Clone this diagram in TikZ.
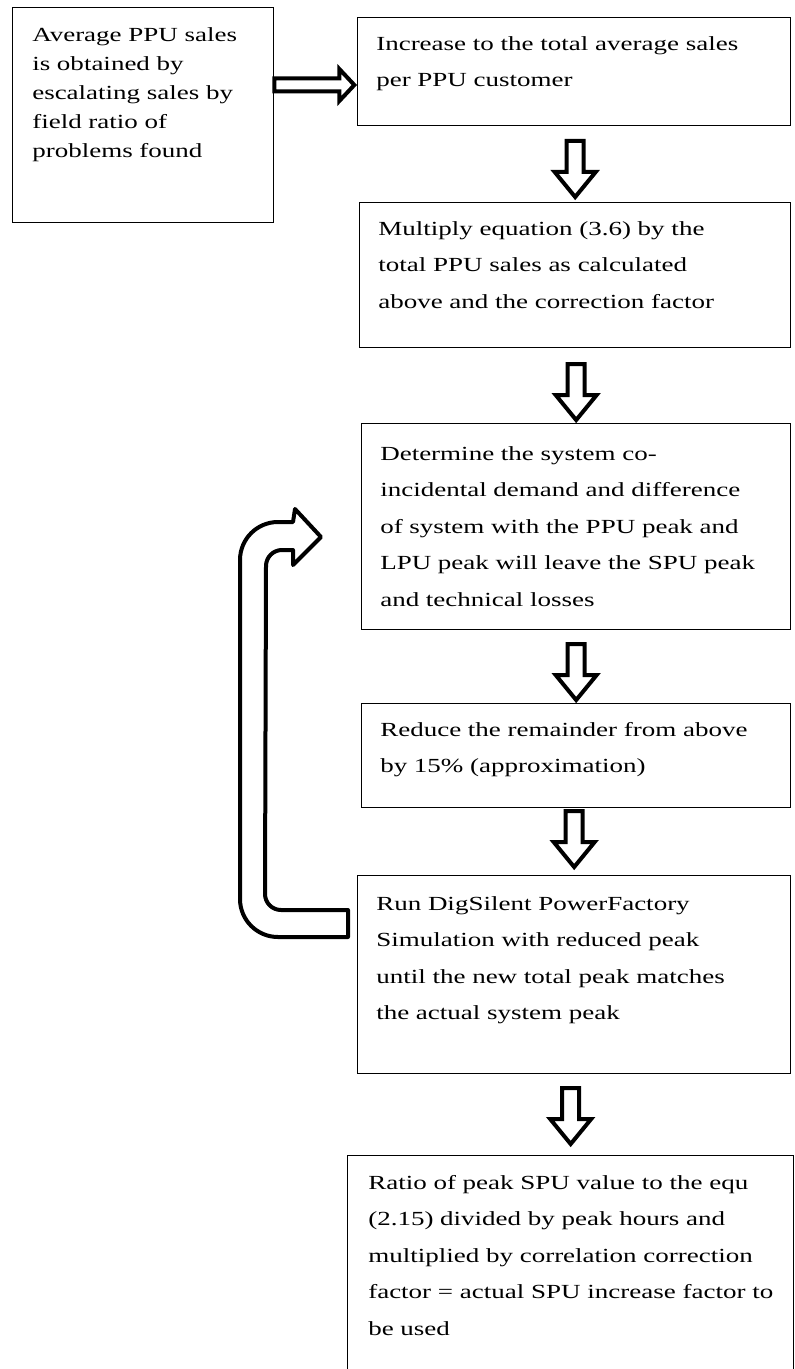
\documentclass[tikz,border=0pt]{standalone}
\usepackage{fontspec}
\setmainfont{Liberation Serif}[FakeStretch=1.35]
\usetikzlibrary{calc}

\tikzset{
  box/.style={draw,line width=1pt,anchor=north west,inner sep=0pt},
  txt/.style={anchor=north west,align=left,inner sep=0pt,
    font=\fontsize{15}{27.4}\selectfont},
  blk/.style={draw,line width=3pt,fill=white,line join=miter},
  pushdown/.pic={
    \draw[blk] (-8.5,-56)--(8.5,-56)--(8.5,-25)--(20.5,-25)--(0,0)
      --(-20.5,-25)--(-8.5,-25)--cycle;
  },
  pushright/.pic={
    \draw[blk] (0,-6.5)--(65,-6.5)--(65,-16)--(80,0)--(65,16)
      --(65,6.5)--(0,6.5)--cycle;
  }
}

\begin{document}
\begin{tikzpicture}[x=0.75pt,y=-0.75pt]

\useasboundingbox (0,0) rectangle (794,1369);

% boxes
\node[box,minimum width=195.75pt,minimum height=161.25pt] (boxA) at (12,7) {};
\node[box,minimum width=324.75pt,minimum height=81pt] (boxB) at (357,17) {};
\node[box,minimum width=323.25pt,minimum height=108.75pt] (boxC) at (359,202) {};
\node[box,minimum width=321.75pt,minimum height=154.5pt] (boxD) at (361,423) {};
\node[box,minimum width=321.75pt,minimum height=78pt] (boxE) at (361,703) {};
\node[box,minimum width=324.75pt,minimum height=148.5pt] (boxF) at (357,875) {};
\node[box,minimum width=334.5pt,minimum height=180pt] (boxG) at (347,1155) {};

% texts
\node[txt,font=\fontsize{15}{21.75}\selectfont] (tA) at (32,27)
  {Average PPU sales\\is obtained by\\escalating sales by\\field ratio of\\problems found};
\node[txt] (tB) at (376,36)
  {Increase to the total average sales\\per PPU customer};
\node[txt] (tC) at (378,221)
  {Multiply equation (3.6) by the\\total PPU sales as calculated\\above and the correction factor};
\node[txt] (tD) at (380,446)
  {Determine the system co-\\incidental demand and difference\\of system with the PPU peak and\\LPU peak will leave the SPU peak\\and technical losses};
\node[txt] (tE) at (380,722)
  {Reduce the remainder from above\\by 15\% (approximation)};
\node[txt] (tF) at (376,896)
  {Run DigSilent PowerFactory\\Simulation with reduced peak\\until the new total peak matches\\the actual system peak};
\node[txt] (tG) at (368,1175)
  {Ratio of peak SPU value to the equ\\(2.15) divided by peak hours and\\multiplied by correlation correction\\factor = actual SPU increase factor to\\be used};

% block arrows
\pic at ($(boxA.north east)+(0,78)$) {pushright};
\pic at ($(boxC.north)+(0,-5)$) {pushdown};
\pic at ($(boxD.north)+(0,-3)$) {pushdown};
\pic at ($(boxE.north)+(0,-3)$) {pushdown};
\pic at ($(boxF.north)+(0,-8)$) {pushdown};
\pic at ($(boxG.north)+(0,-11)$) {pushdown};

% loop back from F to D
\coordinate (tail) at ($(boxF.north west)+(-9,35)$);
\draw[blk,line join=round] (tail) -- (281,910)
  arc[start angle=90,end angle=180,radius=16] -- (266,566)
  arc[start angle=180,end angle=270,radius=16] -- (293,550)
  -- (293,565) -- (321,537) -- (295,509) -- (293,522) -- (278,522)
  arc[start angle=270,end angle=180,radius=38] -- (240,899)
  arc[start angle=180,end angle=90,radius=38] -- (348,937) -- cycle;

\end{tikzpicture}
\end{document}
